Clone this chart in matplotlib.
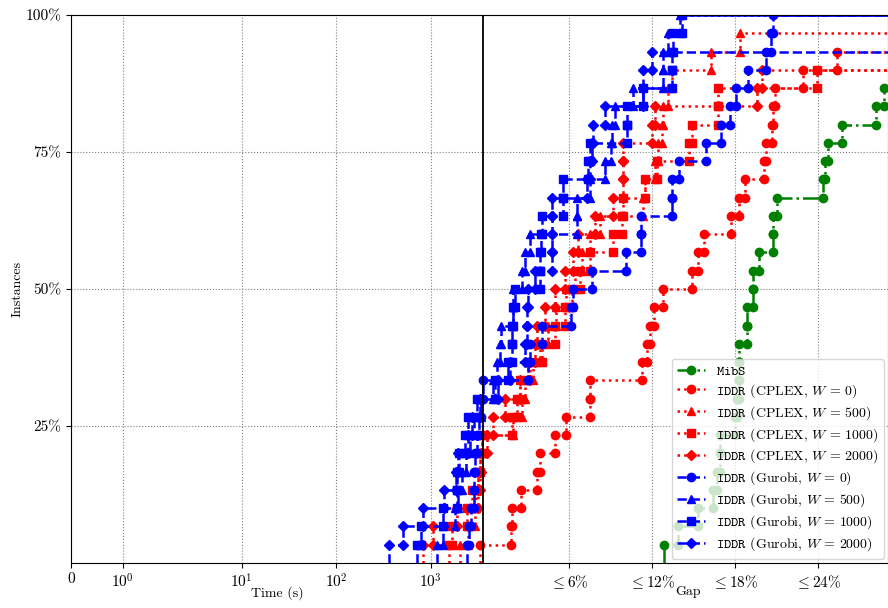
import numpy as np
import matplotlib
matplotlib.use('Agg')
import matplotlib.pyplot as plt

######## DATA
# 30 instances, time limit of one hour
n_instances = 30
time_limit = 3600

# solved instances -> solution time (s), unsolved -> final gap (%)
mibs_times = []
mibs_gaps = [12.87, 13.88, 15.33, 16.41, 16.70, 16.92, 16.92, 18.00, 18.15, 18.29, 18.31, 18.31, 18.87,
             18.87, 19.30, 19.30, 19.73, 20.75, 20.75, 21.04, 24.36, 24.47, 24.70, 25.76, 28.17, 28.79]

cplex0_times = [3324]
cplex0_gaps = [1.79, 1.88, 2.53, 3.69, 3.90, 4.99, 5.82, 7.52, 7.52, 11.26, 11.62, 11.86, 12.17, 12.82,
               14.87, 15.29, 15.76, 17.71, 18.31, 18.72, 20.13, 20.24, 20.65, 20.75, 20.89, 22.89, 25.34]

cplex500_times = [2042, 2481, 2943, 3052, 3204, 3324, 3490]
cplex500_gaps = [1.97, 2.58, 2.82, 3.40, 3.90, 4.48, 5.06, 5.78, 6.43, 6.92, 7.52, 8.24, 11.37, 11.49,
                 12.22, 12.43, 12.70, 12.83, 13.16, 13.45, 16.27, 18.36]

cplex1000_times = [1562, 1680, 2422, 2735, 3167, 3324, 3490]
cplex1000_gaps = [1.86, 2.24, 2.46, 3.06, 4.03, 4.99, 5.71, 6.20, 6.80, 7.52, 9.20, 9.81, 9.88, 11.49,
                  12.34, 14.70, 14.87, 16.79, 16.79, 23.91]

cplex2000_times = [823, 1065, 1884, 3167, 3324, 3406]
cplex2000_gaps = [0.05, 0.51, 1.37, 2.46, 3.18, 3.54, 3.69, 4.27, 4.99, 5.71, 6.31, 6.67, 7.88, 9.20,
                  9.88, 9.88, 9.88, 11.98, 12.22, 19.57, 19.93]

gurobi0_times = [2404, 2541, 2670, 2872, 2872, 2943, 3090, 3243, 3406, 3550]
gurobi0_gaps = [3.04, 3.18, 4.03, 6.12, 6.27, 7.64, 10.12, 11.18, 11.18, 13.47, 13.47, 13.95, 15.90,
                16.97, 17.64, 18.07, 18.96, 20.24, 20.60, 20.73]

gurobi500_times = [1157, 1359, 1808, 1945, 2144, 2363, 2606, 2872, 3406]
gurobi500_gaps = [0.53, 0.77, 1.01, 1.08, 1.93, 1.97, 2.58, 2.82, 3.18, 6.56, 6.56, 7.52, 8.60, 9.01,
                  9.09, 9.33, 10.65, 12.82, 12.82, 13.16, 14.02]

gurobi1000_times = [711, 790, 1359, 1884, 1898, 1993, 2307, 2481, 3090]
gurobi1000_gaps = [0.65, 1.59, 1.86, 1.86, 1.95, 2.10, 3.90, 3.90, 3.98, 4.03, 5.59, 5.59, 7.37, 7.52,
                   10.17, 10.17, 11.37, 13.42, 13.42, 13.52, 14.15]

gurobi2000_times = [362, 513, 835, 1382, 1852, 1945, 2481, 2735, 3324]
gurobi2000_gaps = [0.89, 1.73, 2.82, 2.94, 2.96, 3.06, 3.54, 4.75, 4.75, 4.75, 4.75, 7.28, 7.52, 7.64,
                   7.76, 8.57, 11.35, 11.35, 11.98]

time_ticks = [0, 1, 10, 100, 1000]
time_labels = ['0', r'$10^0$', r'$10^1$', r'$10^2$', r'$10^3$']
gap_ticks = [6, 12, 18, 24]
gap_labels = [r'$\leq 6\%$', r'$\leq 12\%$', r'$\leq 18\%$', r'$\leq 24\%$']
y_ticks = [0.25, 0.50, 0.75, 1.00]
y_labels = ['25%', '50%', '75%', '100%']
gap_max = 29.06
#####################

plt.rcParams['font.family'] = 'cmr10'
plt.rcParams['mathtext.fontset'] = 'cm'
plt.rcParams['axes.formatter.use_mathtext'] = True
plt.rcParams['font.size'] = 11

## combined x axis: time (0 .. time limit) then gap after the time limit
U1 = 0.547      # position of 1 s
U10 = 1.806     # position of 10 s
GAP_UNIT = 0.1464
SHIFT = 0.2
U_TL = U10 + np.log10(time_limit / 10)


def fwd(v):
    v = np.asarray(v, dtype=float)
    out = np.zeros_like(v)
    a = v <= 1
    out[a] = v[a] * U1
    b = (v > 1) & (v <= 10)
    out[b] = U1 + np.log10(v[b]) * (U10 - U1)
    c = (v > 10) & (v <= time_limit)
    out[c] = U10 + np.log10(v[c] / 10)
    d = v > time_limit
    out[d] = U_TL + (v[d] - time_limit + SHIFT) * GAP_UNIT
    return out


def inv(u):
    u = np.asarray(u, dtype=float)
    out = np.zeros_like(u)
    a = u <= U1
    out[a] = u[a] / U1
    b = (u > U1) & (u <= U10)
    out[b] = 10 ** ((u[b] - U1) / (U10 - U1))
    c = (u > U10) & (u <= U_TL)
    out[c] = 10 * 10 ** (u[c] - U10)
    d = u > U_TL
    out[d] = time_limit + (u[d] - U_TL) / GAP_UNIT - SHIFT
    return out


x_max = time_limit + gap_max


## step points of the performance profile
def stepPoints(times, gaps):
    vals = sorted(times) + [time_limit + g for g in sorted(gaps)]
    xs, ys = [vals[0]], [0]
    for i, v in enumerate(vals):
        level = (i + 1) / n_instances
        xs.append(v)
        ys.append(level)
        nxt = vals[i + 1] if i + 1 < len(vals) else x_max
        xs.append(nxt)
        ys.append(level)
    return xs, ys


def iddrLabel(solver, w):
    return r'$\mathtt{IDDR}$ (%s, $W\,=\,%d$)' % (solver, w)


series = [
    (mibs_times, mibs_gaps, r'$\mathtt{MibS}$', 'green', '-.', 'o'),
    (cplex0_times, cplex0_gaps, iddrLabel('CPLEX', 0), 'red', ':', 'o'),
    (cplex500_times, cplex500_gaps, iddrLabel('CPLEX', 500), 'red', ':', '^'),
    (cplex1000_times, cplex1000_gaps, iddrLabel('CPLEX', 1000), 'red', ':', 's'),
    (cplex2000_times, cplex2000_gaps, iddrLabel('CPLEX', 2000), 'red', ':', 'D'),
    (gurobi0_times, gurobi0_gaps, iddrLabel('Gurobi', 0), 'blue', '--', 'o'),
    (gurobi500_times, gurobi500_gaps, iddrLabel('Gurobi', 500), 'blue', '--', '^'),
    (gurobi1000_times, gurobi1000_gaps, iddrLabel('Gurobi', 1000), 'blue', '--', 's'),
    (gurobi2000_times, gurobi2000_gaps, iddrLabel('Gurobi', 2000), 'blue', '--', 'D'),
]

fig = plt.figure(figsize=(8.88, 6.08), dpi=100)
ax = fig.add_axes([71 / 888, 45 / 608, 817 / 888, 548 / 608])
ax.set_xscale('function', functions=(fwd, inv))

for times, gaps, label, color, ls, marker in series:
    xs, ys = stepPoints(times, gaps)
    ms = 5 if marker == 'D' else 6
    ax.plot(xs, ys, color=color, linestyle=ls, linewidth=1.8, marker=marker, markersize=ms,
            markevery=list(range(1, len(xs) - 1)), label=label)

# time limit separator
ax.axvline(time_limit, color='black', linewidth=1.3)

ax.set_xlim(0, x_max)
ax.set_ylim(0, 1)
ax.set_xticks(time_ticks + [time_limit + g for g in gap_ticks])
ax.set_xticklabels(time_labels + gap_labels)
ax.set_yticks(y_ticks)
ax.set_yticklabels(y_labels)
ax.minorticks_off()
ax.grid(True, linestyle=':', color='gray', linewidth=0.8)
for sp in ax.spines.values():
    sp.set_zorder(5)

ax.text(0.252, -0.042, 'Time (s)', transform=ax.transAxes, ha='center', va='top', fontsize=10)
ax.text(0.755, -0.042, 'Gap', transform=ax.transAxes, ha='center', va='top', fontsize=10)
fig.text(18 / 888, 0.5247, 'Instances', rotation=90, ha='center', va='center', fontsize=10)

ax.legend(loc='lower right', fontsize=10, borderaxespad=0.3, framealpha=0.8, labelspacing=0.3)

fig.savefig('out.png', dpi=100)
